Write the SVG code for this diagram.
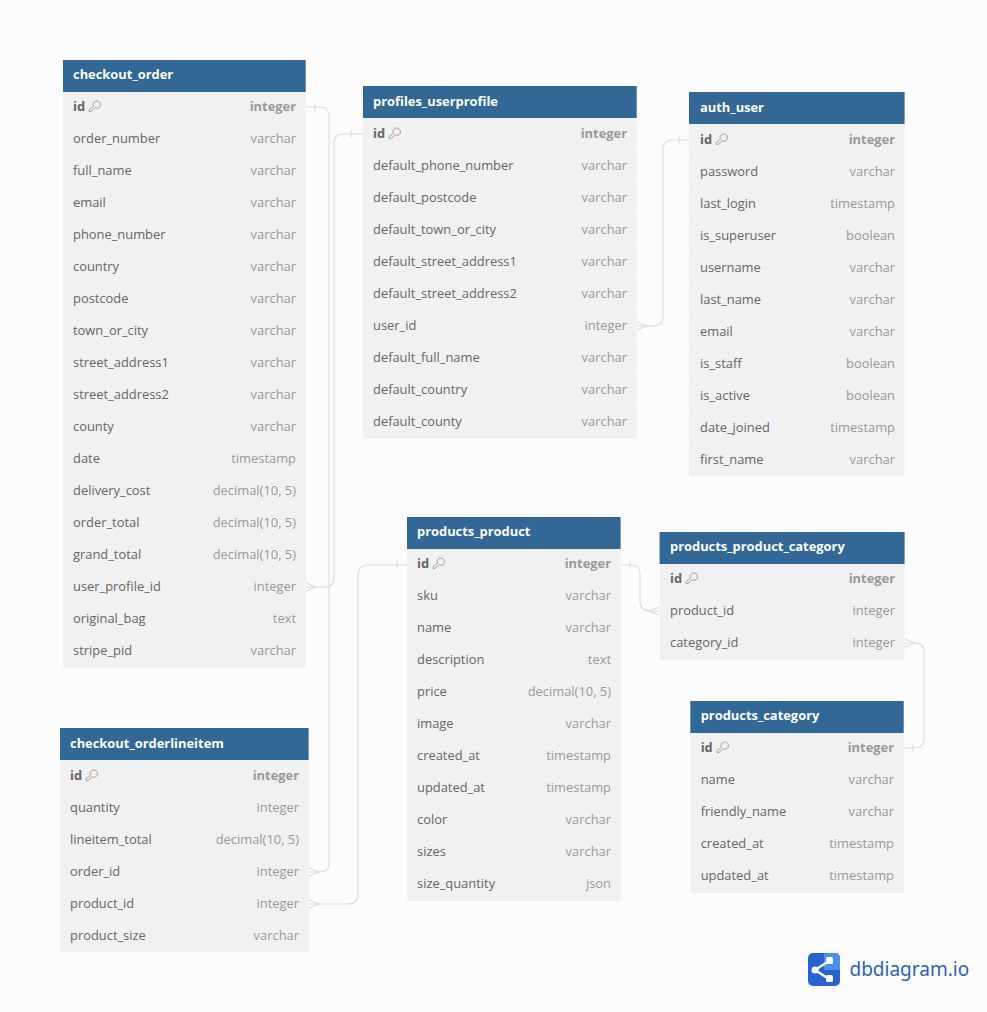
<svg xmlns="http://www.w3.org/2000/svg" width="987" height="1012" viewBox="0 0 987 1012">
<style>
text{font-family:"Open Sans","Noto Sans",sans-serif;font-size:12.9px}
.h{fill:#316896}
.b{fill:url(#rows)}
.t{fill:#fff;font-weight:700}
.n{fill:#666}
.y{fill:#999;text-anchor:end}
.pn{fill:#666;font-weight:700}
.py{fill:#999;font-weight:700;text-anchor:end}
.c{fill:none;stroke:#dcdcdc;stroke-width:1.1}
.k{fill:none;stroke:#8c8c8c;stroke-width:.8}
.logo{font-family:"Noto Sans",sans-serif;font-size:19px;fill:#2a62c4}
</style>
<defs>
<pattern id="rows" patternUnits="userSpaceOnUse" width="32" height="32"><rect width="32" height="32" fill="#f1f1f1"/><rect y="31" width="32" height="1" fill="#f0f0f0"/></pattern>
<g id="key"><path class="k" d="M5.4 -4.8A3.7 3.7 0 1 1 9.9 -2.8C9 -2.6 8 -2.8 7.2 -3.3L3 .4H1.2V-1.5Z"/></g>
</defs>
<rect width="987" height="1012" fill="#fcfcfc"/>
<g id="connectors">
<path class="c" d="M306 107H320Q329 107 329 116V863Q329 872 320 872H309"/>
<path class="c" d="M315 103V111"/>
<path class="c" d="M309 868L319 872L309 876"/>
<path class="c" d="M363 134H344Q334 134 334 144V577Q334 587 324 587H306"/>
<path class="c" d="M351 130V138"/>
<path class="c" d="M306 583L316 587L306 591"/>
<path class="c" d="M689 140H673Q663 140 663 150V316Q663 326 653 326H637"/>
<path class="c" d="M679 136V144"/>
<path class="c" d="M637 322L647 326L637 330"/>
<path class="c" d="M407 565H368Q358 565 358 575V894Q358 904 348 904H309"/>
<path class="c" d="M397 561V569"/>
<path class="c" d="M309 900L319 904L309 908"/>
<path class="c" d="M621 565H631Q640 565 640 574V601Q640 611 650 611H659"/>
<path class="c" d="M630 561V569"/>
<path class="c" d="M659 607L649 611L659 615"/>
<path class="c" d="M905 643H915Q924 643 924 652V739Q924 748 915 748H904"/>
<path class="c" d="M905 639L915 643L905 647"/>
<path class="c" d="M913 744V752"/>
</g>
<g id="checkout_order">
<rect class="h" x="63" y="60" width="242.7" height="32"/><rect class="b" transform="translate(63 92)" width="242.7" height="576"/>
<text class="t" x="73" y="79">checkout_order</text>
<text class="pn" x="73" y="111">id</text><use href="#key" x="88" y="111"/><text class="py" x="296" y="111">integer</text>
<text class="n" x="73" y="143">order_number</text><text class="y" x="296" y="143">varchar</text>
<text class="n" x="73" y="175">full_name</text><text class="y" x="296" y="175">varchar</text>
<text class="n" x="73" y="207">email</text><text class="y" x="296" y="207">varchar</text>
<text class="n" x="73" y="239">phone_number</text><text class="y" x="296" y="239">varchar</text>
<text class="n" x="73" y="271">country</text><text class="y" x="296" y="271">varchar</text>
<text class="n" x="73" y="303">postcode</text><text class="y" x="296" y="303">varchar</text>
<text class="n" x="73" y="335">town_or_city</text><text class="y" x="296" y="335">varchar</text>
<text class="n" x="73" y="367">street_address1</text><text class="y" x="296" y="367">varchar</text>
<text class="n" x="73" y="399">street_address2</text><text class="y" x="296" y="399">varchar</text>
<text class="n" x="73" y="431">county</text><text class="y" x="296" y="431">varchar</text>
<text class="n" x="73" y="463">date</text><text class="y" x="296" y="463">timestamp</text>
<text class="n" x="73" y="495">delivery_cost</text><text class="y" x="296" y="495">decimal(10, 5)</text>
<text class="n" x="73" y="527">order_total</text><text class="y" x="296" y="527">decimal(10, 5)</text>
<text class="n" x="73" y="559">grand_total</text><text class="y" x="296" y="559">decimal(10, 5)</text>
<text class="n" x="73" y="591">user_profile_id</text><text class="y" x="296" y="591">integer</text>
<text class="n" x="73" y="623">original_bag</text><text class="y" x="296" y="623">text</text>
<text class="n" x="73" y="655">stripe_pid</text><text class="y" x="296" y="655">varchar</text>
</g>
<g id="profiles_userprofile">
<rect class="h" x="363" y="86" width="273.7" height="32"/><rect class="b" transform="translate(363 118)" width="273.7" height="320"/>
<text class="t" x="373" y="106">profiles_userprofile</text>
<text class="pn" x="373" y="138">id</text><use href="#key" x="388" y="138"/><text class="py" x="627" y="138">integer</text>
<text class="n" x="373" y="170">default_phone_number</text><text class="y" x="627" y="170">varchar</text>
<text class="n" x="373" y="202">default_postcode</text><text class="y" x="627" y="202">varchar</text>
<text class="n" x="373" y="234">default_town_or_city</text><text class="y" x="627" y="234">varchar</text>
<text class="n" x="373" y="266">default_street_address1</text><text class="y" x="627" y="266">varchar</text>
<text class="n" x="373" y="298">default_street_address2</text><text class="y" x="627" y="298">varchar</text>
<text class="n" x="373" y="330">user_id</text><text class="y" x="627" y="330">integer</text>
<text class="n" x="373" y="362">default_full_name</text><text class="y" x="627" y="362">varchar</text>
<text class="n" x="373" y="394">default_country</text><text class="y" x="627" y="394">varchar</text>
<text class="n" x="373" y="426">default_county</text><text class="y" x="627" y="426">varchar</text>
</g>
<g id="auth_user">
<rect class="h" x="689" y="92" width="215.6" height="32"/><rect class="b" transform="translate(689 124)" width="215.6" height="352"/>
<text class="t" x="700" y="112">auth_user</text>
<text class="pn" x="700" y="144">id</text><use href="#key" x="715" y="144"/><text class="py" x="895" y="144">integer</text>
<text class="n" x="700" y="176">password</text><text class="y" x="895" y="176">varchar</text>
<text class="n" x="700" y="208">last_login</text><text class="y" x="895" y="208">timestamp</text>
<text class="n" x="700" y="240">is_superuser</text><text class="y" x="895" y="240">boolean</text>
<text class="n" x="700" y="272">username</text><text class="y" x="895" y="272">varchar</text>
<text class="n" x="700" y="304">last_name</text><text class="y" x="895" y="304">varchar</text>
<text class="n" x="700" y="336">email</text><text class="y" x="895" y="336">varchar</text>
<text class="n" x="700" y="368">is_staff</text><text class="y" x="895" y="368">boolean</text>
<text class="n" x="700" y="400">is_active</text><text class="y" x="895" y="400">boolean</text>
<text class="n" x="700" y="432">date_joined</text><text class="y" x="895" y="432">timestamp</text>
<text class="n" x="700" y="464">first_name</text><text class="y" x="895" y="464">varchar</text>
</g>
<g id="products_product">
<rect class="h" x="407" y="517" width="213.6" height="32"/><rect class="b" transform="translate(407 549)" width="213.6" height="352"/>
<text class="t" x="417" y="536">products_product</text>
<text class="pn" x="417" y="568">id</text><use href="#key" x="432" y="568"/><text class="py" x="611" y="568">integer</text>
<text class="n" x="417" y="600">sku</text><text class="y" x="611" y="600">varchar</text>
<text class="n" x="417" y="632">name</text><text class="y" x="611" y="632">varchar</text>
<text class="n" x="417" y="664">description</text><text class="y" x="611" y="664">text</text>
<text class="n" x="417" y="696">price</text><text class="y" x="611" y="696">decimal(10, 5)</text>
<text class="n" x="417" y="728">image</text><text class="y" x="611" y="728">varchar</text>
<text class="n" x="417" y="760">created_at</text><text class="y" x="611" y="760">timestamp</text>
<text class="n" x="417" y="792">updated_at</text><text class="y" x="611" y="792">timestamp</text>
<text class="n" x="417" y="824">color</text><text class="y" x="611" y="824">varchar</text>
<text class="n" x="417" y="856">sizes</text><text class="y" x="611" y="856">varchar</text>
<text class="n" x="417" y="888">size_quantity</text><text class="y" x="611" y="888">json</text>
</g>
<g id="products_product_category">
<rect class="h" x="659.6" y="532" width="245" height="32"/><rect class="b" transform="translate(659.6 564)" width="245" height="96"/>
<text class="t" x="670" y="551">products_product_category</text>
<text class="pn" x="670" y="583">id</text><use href="#key" x="685" y="583"/><text class="py" x="895" y="583">integer</text>
<text class="n" x="670" y="615">product_id</text><text class="y" x="895" y="615">integer</text>
<text class="n" x="670" y="647">category_id</text><text class="y" x="895" y="647">integer</text>
</g>
<g id="products_category">
<rect class="h" x="690.3" y="701" width="213.4" height="32"/><rect class="b" transform="translate(690.3 733)" width="213.4" height="160"/>
<text class="t" x="700.7" y="720">products_category</text>
<text class="pn" x="700.7" y="752">id</text><use href="#key" x="716" y="752"/><text class="py" x="894" y="752">integer</text>
<text class="n" x="700.7" y="784">name</text><text class="y" x="894" y="784">varchar</text>
<text class="n" x="700.7" y="816">friendly_name</text><text class="y" x="894" y="816">varchar</text>
<text class="n" x="700.7" y="848">created_at</text><text class="y" x="894" y="848">timestamp</text>
<text class="n" x="700.7" y="880">updated_at</text><text class="y" x="894" y="880">timestamp</text>
</g>
<g id="checkout_orderlineitem">
<rect class="h" x="60" y="728" width="248.6" height="32"/><rect class="b" transform="translate(60 760)" width="248.6" height="192"/>
<text class="t" x="70" y="748">checkout_orderlineitem</text>
<text class="pn" x="70" y="780">id</text><use href="#key" x="85" y="780"/><text class="py" x="299" y="780">integer</text>
<text class="n" x="70" y="812">quantity</text><text class="y" x="299" y="812">integer</text>
<text class="n" x="70" y="844">lineitem_total</text><text class="y" x="299" y="844">decimal(10, 5)</text>
<text class="n" x="70" y="876">order_id</text><text class="y" x="299" y="876">integer</text>
<text class="n" x="70" y="908">product_id</text><text class="y" x="299" y="908">integer</text>
<text class="n" x="70" y="940">product_size</text><text class="y" x="299" y="940">varchar</text>
</g>
<g id="logo">
<rect x="808" y="953" width="32" height="33" rx="5" fill="#2563d0"/>
<path d="M824 953H835Q840 953 840 958V970H824Z" fill="#4a90ee"/>
<path d="M815 970L829 961M815 970L829 979" stroke="#fff" stroke-width="2.5" fill="none"/>
<circle cx="815" cy="970" r="3.5" fill="#fff"/>
<rect x="826" y="957" width="7" height="7" rx="1.5" fill="#fff"/>
<rect x="826" y="975" width="7" height="7" rx="1.5" fill="#fff"/>
<text class="logo" x="849.5" y="976">dbdiagram.io</text>
</g>
</svg>
